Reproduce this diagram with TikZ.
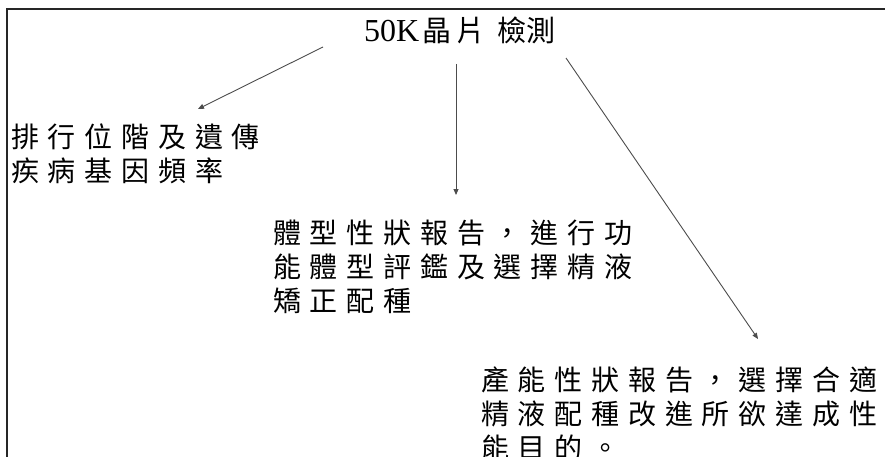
\documentclass[tikz,border=0pt]{standalone}
\usepackage{fontspec}
\setmainfont{Liberation Serif}
\newfontfamily\cjk{Noto Sans CJK TC}
\usetikzlibrary{arrows.meta}
\newlength\cellw
\setlength\cellw{36.8pt}
\def\spc#1{\spci#1\relax}
\def\spci#1{\ifx#1\relax\else\makebox[\cellw][l]{#1}\expandafter\spci\fi}
\tikzset{
  txt/.style={anchor=north west, inner sep=0pt, align=left,
    font=\cjk\fontsize{28}{34}\selectfont},
  arr/.style={draw=black!70, line width=0.9pt, -{Triangle[length=6pt,width=5pt]}},
  frame/.style={draw=black!85, line width=1.6pt}
}
\begin{document}
\begin{tikzpicture}[x=1pt,y=-1pt]
\useasboundingbox (0,0) rectangle (885,457);
% frame
\coordinate (f1) at (885,9);
\coordinate (f2) at (7,9);
\coordinate (f3) at (7,457);
\draw[frame] (f1) -- (f2) -- (f3);
% title
\node[anchor=north west, inner sep=0pt] (title) at (364,17)
  {\fontsize{32}{32}\selectfont 50K{\cjk\fontsize{29}{29}\selectfont \hspace{3pt}晶\hspace{5pt}片\hspace{12pt}檢測}};
% blocks
\node[txt] (b1) at (11,124) {\spc{排行位階及遺傳}\\\spc{疾病基因頻率}};
\node[txt] (b2) at (273,220) {\spc{體型性狀報告，進行功}\\\spc{能體型評鑑及選擇精液}\\\spc{矯正配種}};
\node[txt] (b3) at (481,367) {\spc{產能性狀報告，選擇合適}\\\spc{精液配種改進所欲達成性}\\\spc{能目的。}};
% connectors
\coordinate (a1s) at (323,47);
\coordinate (a1e) at (198,109);
\coordinate (a2s) at (456,64);
\coordinate (a2e) at (456,195);
\coordinate (a3s) at (566,58);
\coordinate (a3e) at (758,339);
\draw[arr] (a1s) -- (a1e);
\draw[arr] (a2s) -- (a2e);
\draw[arr] (a3s) -- (a3e);
\end{tikzpicture}
\end{document}
